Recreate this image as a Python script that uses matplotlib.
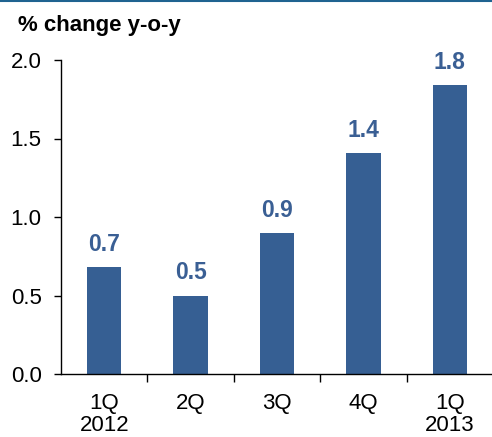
import matplotlib.pyplot as plt
from matplotlib.lines import Line2D

plt.rcParams['font.family'] = ['Liberation Sans', 'DejaVu Sans']

# data
quarters = ['1Q\n2012', '2Q', '3Q', '4Q', '1Q\n2013']
values = [0.68, 0.50, 0.90, 1.41, 1.84]
value_labels = ['0.7', '0.5', '0.9', '1.4', '1.8']
y_ticks = [0.0, 0.5, 1.0, 1.5, 2.0]

bar_color = '#365F93'
label_color = '#3A5F94'

fig = plt.figure(figsize=(4.92, 4.37), dpi=100)
ax = fig.add_axes([61 / 492, 63 / 437, 432 / 492, 314 / 437])

x = list(range(len(quarters)))
bars = ax.bar(x, values, width=0.4, color=bar_color)

for xi, v, lab in zip(x, values, value_labels):
    ax.annotate(lab, (xi, v), xytext=(0, 8), textcoords='offset points',
                ha='center', va='bottom', fontsize=16.5, fontweight='bold',
                color=label_color)

ax.set_xlim(-0.5, len(quarters) - 0.5)
ax.set_ylim(0, 2.0)
ax.set_yticks(y_ticks)
ax.set_yticklabels(['%.1f' % t for t in y_ticks], fontsize=16)
ax.tick_params(axis='y', direction='out', length=5, width=1, pad=9)

# tick marks between categories, labels at the centres
ax.set_xticks([i + 0.5 for i in x[:-1]])
ax.set_xticklabels([])
ax.tick_params(axis='x', which='major', direction='out', length=6, width=1)
ax.set_xticks(x, minor=True)
ax.set_xticklabels(quarters, minor=True, fontsize=16, linespacing=1.05)
ax.tick_params(axis='x', which='minor', length=0, pad=14)

for side in ['top', 'right']:
    ax.spines[side].set_visible(False)
ax.spines['left'].set_linewidth(1)
ax.spines['bottom'].set_linewidth(1)

fig.text(18 / 492, 1 - 26 / 437, '% change y-o-y', fontsize=16,
         fontweight='bold', va='center', ha='left')

# rule along the top edge
fig.add_artist(Line2D([0, 1], [0.998, 0.998], transform=fig.transFigure,
                      color='#1F6390', linewidth=1.5))

fig.savefig('out.png', dpi=100)
